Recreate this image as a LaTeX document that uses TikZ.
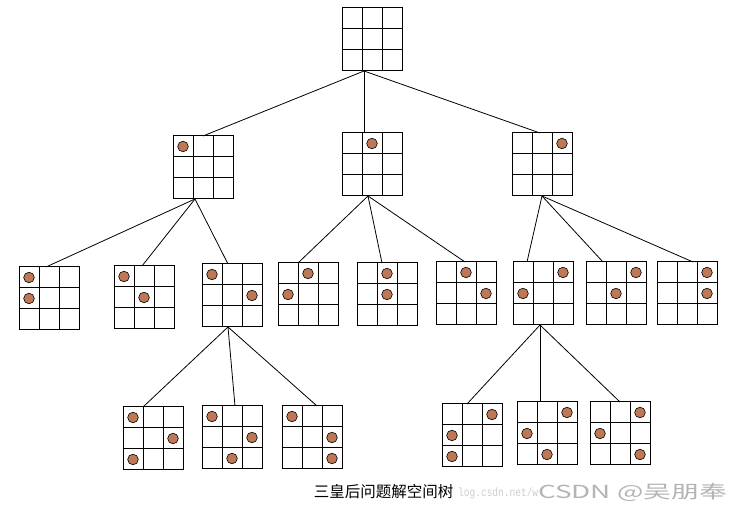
\documentclass[tikz,border=0pt]{standalone}
\usepackage{fontspec}
\newfontfamily\cjkfont{Noto Sans CJK SC}
\newfontfamily\wmfont{Liberation Mono}
\usetikzlibrary{calc}
\definecolor{queenfill}{RGB}{190,120,86}
\definecolor{wmgray}{RGB}{205,205,205}
\definecolor{wmdark}{RGB}{180,180,180}
\tikzset{
  board/.style={draw, line width=1pt, minimum width=60pt, minimum height=63pt, inner sep=0pt, outer sep=0pt},
  gridline/.style={line width=1pt},
  queen/.style={fill=queenfill, draw=black, line width=0.6pt},
  conn/.style={line width=0.8pt},
}
\newcommand\qgrid[3]{%
  \node[board, anchor=north west] (#1) at (#2,#3) {};
  \foreach \i in {1,2} {
    \draw[gridline] ($(#1.north west)+(\i*20,0)$) -- ($(#1.south west)+(\i*20,0)$);
    \draw[gridline] ($(#1.north west)+(0,\i*21)$) -- ($(#1.north east)+(0,\i*21)$);
  }%
}
\newcommand\qmarks[2]{%
  \foreach \r/\c in {#2} {
    \filldraw[queen] ($(#1.north west)+(\c*20-10,\r*21-10.5)$) circle (5.3pt);
  }%
}
\newcommand\qlink[4]{%
  \draw[conn] ($(#1.south west)+(#2,0)$) -- ($(#3.north west)+(#4,0)$);
}
\begin{document}
\begin{tikzpicture}[x=1pt,y=-1pt]
\fill[white] (0,0) rectangle (750,510);
\useasboundingbox (0,0) rectangle (750,510);
% level 0
\qgrid{root}{342}{8}
% level 1
\qgrid{a}{173}{136} \qmarks{a}{1/1}
\qgrid{b}{342}{133} \qmarks{b}{1/2}
\qgrid{c}{512}{133} \qmarks{c}{1/3}
% level 2
\qgrid{aa}{19}{267}  \qmarks{aa}{1/1,2/1}
\qgrid{ab}{114}{266} \qmarks{ab}{1/1,2/2}
\qgrid{ac}{202}{264} \qmarks{ac}{1/1,2/3}
\qgrid{ba}{278}{263} \qmarks{ba}{1/2,2/1}
\qgrid{bb}{357}{263} \qmarks{bb}{1/2,2/2}
\qgrid{bc}{436}{262} \qmarks{bc}{1/2,2/3}
\qgrid{ca}{513}{262} \qmarks{ca}{1/3,2/1}
\qgrid{cb}{586}{262} \qmarks{cb}{1/3,2/2}
\qgrid{cc}{657}{262} \qmarks{cc}{1/3,2/3}
% level 3
\qgrid{aca}{123}{407} \qmarks{aca}{1/1,2/3,3/1}
\qgrid{acb}{202}{406} \qmarks{acb}{1/1,2/3,3/2}
\qgrid{acc}{282}{406} \qmarks{acc}{1/1,2/3,3/3}
\qgrid{caa}{442}{404} \qmarks{caa}{1/3,2/1,3/1}
\qgrid{cab}{517}{402} \qmarks{cab}{1/3,2/1,3/2}
\qgrid{cac}{590}{402} \qmarks{cac}{1/3,2/1,3/3}
% connectors
\qlink{root}{22}{a}{30}
\qlink{root}{22}{b}{22}
\qlink{root}{22}{c}{28}
\qlink{a}{22}{aa}{27}
\qlink{a}{22}{ab}{28}
\qlink{a}{22}{ac}{26}
\qlink{b}{26}{ba}{20}
\qlink{b}{26}{bb}{25}
\qlink{b}{26}{bc}{29}
\qlink{c}{30}{ca}{14}
\qlink{c}{30}{cb}{17}
\qlink{c}{30}{cc}{36}
\qlink{ac}{26}{aca}{20}
\qlink{ac}{26}{acb}{33}
\qlink{ac}{26}{acc}{35}
\qlink{ca}{27}{caa}{25}
\qlink{ca}{27}{cab}{23}
\qlink{ca}{27}{cac}{30}
% caption and watermark
\node[anchor=west, inner sep=0pt, text=wmgray, font=\wmfont\fontsize{12}{14}\selectfont] (url) at (458,493) {\resizebox{80pt}{\height}{log.csdn.net/w}};
\node[inner sep=0pt, font=\cjkfont\fontsize{15.5}{18}\selectfont] (cap) at (383.5,492) {三皇后问题解空间树};
\node[anchor=west, inner sep=0pt, text=wmdark, font=\cjkfont\fontsize{18}{20}\selectfont] (wm) at (538,492) {\resizebox{189pt}{\height}{CSDN @吴朋奉}};
\end{tikzpicture}
\end{document}
